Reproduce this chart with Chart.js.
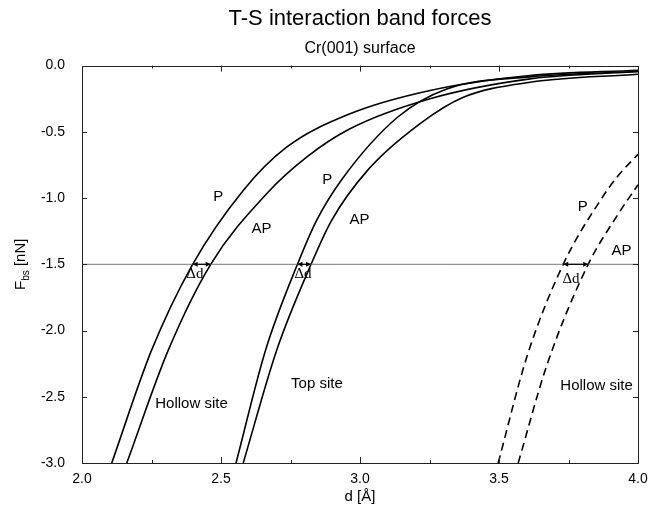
<!DOCTYPE html>
<html>
<head>
<meta charset="utf-8">
<script src="https://cdn.jsdelivr.net/npm/chart.js@4/dist/chart.umd.min.js"></script>
<style>
  html, body { margin: 0; padding: 0; background: #fff; }
  #wrap { width: 649px; height: 508px; }
</style>
</head>
<body>
<div id="wrap"><canvas id="forceChart" width="649" height="508"></canvas></div>
<script>
// tip-sample distance d [Å] and band force F_bs [nN] for each curve
const hollowP_d  = [2.107, 2.25, 2.398, 2.58, 2.736, 2.964, 3.252, 3.612, 4.0];
const hollowP_F  = [-3.0, -2.15, -1.5, -0.942, -0.616, -0.364, -0.188, -0.075, -0.035];
const hollowAP_d = [2.161, 2.31, 2.463, 2.664, 2.808, 2.964, 3.252, 3.612, 4.0];
const hollowAP_F = [-3.0, -2.15, -1.5, -0.967, -0.691, -0.477, -0.25, -0.1, -0.045];
const topP_d     = [2.554, 2.66, 2.775, 2.844, 2.934, 3.135, 3.312, 3.612, 4.0];
const topP_F     = [-3.0, -2.15, -1.5, -1.168, -0.861, -0.39, -0.176, -0.085, -0.045];
const topAP_d    = [2.580, 2.70, 2.824, 2.898, 3.027, 3.215, 3.372, 3.612, 4.0];
const topAP_F    = [-3.0, -2.15, -1.5, -1.168, -0.791, -0.44, -0.239, -0.126, -0.065];
const hollow2P_d  = [3.497, 3.60, 3.731, 3.87, 3.929, 4.0];
const hollow2P_F  = [-3.0, -2.2, -1.5, -1.0, -0.83, -0.67];
const hollow2AP_d = [3.569, 3.674, 3.821, 3.929, 4.0];
const hollow2AP_F = [-3.0, -2.25, -1.5, -1.12, -0.90];

const bandLevel = -1.5;

// text labels placed in data coordinates
const labelText = ['P', 'AP', 'P', 'AP', 'P', 'AP', 'Hollow site', 'Top site', 'Hollow site'];
const labelX    = [2.49, 2.646, 2.882, 2.998, 3.801, 3.941, 2.394, 2.845, 3.851];
const labelY    = [-0.99, -1.23, -0.861, -1.168, -1.068, -1.40, -2.555, -2.404, -2.419];

const deltaLabelX = [2.406, 2.795, 3.759];
const deltaLabelY = [-1.577, -1.577, -1.613];

const SANS = "'Liberation Sans', Arial, Helvetica, sans-serif";
const SERIF = "'Liberation Serif', 'Times New Roman', serif";

function toPoints(xs, ys) {
    return xs.map((x, i) => ({ x: x, y: ys[i] }));
}

function crossingAt(xs, ys, level) {
    const i = ys.indexOf(level);
    return xs[i];
}

function curve(xs, ys, dashed) {
    return {
        data: toPoints(xs, ys),
        borderColor: '#000',
        borderWidth: 1.6,
        borderDash: dashed ? [8, 5] : [],
        pointRadius: 0,
        showLine: true,
        fill: false,
        cubicInterpolationMode: 'monotone'
    };
}

// pairs of curves whose Δd gets an arrow
const pairs = [
    [hollowP_d, hollowP_F, hollowAP_d, hollowAP_F],
    [topP_d, topP_F, topAP_d, topAP_F],
    [hollow2P_d, hollow2P_F, hollow2AP_d, hollow2AP_F]
];

const decorations = {
    id: 'decorations',
    afterDatasetsDraw(chart) {
        const ctx = chart.ctx;
        const area = chart.chartArea;
        const xs = chart.scales.x;
        const ys = chart.scales.y;
        ctx.save();

        // frame
        ctx.strokeStyle = '#222';
        ctx.lineWidth = 1;
        ctx.strokeRect(Math.round(area.left) + 0.5, Math.round(area.top) + 0.5,
            Math.round(area.right - area.left), Math.round(area.bottom - area.top));

        // inward tick marks on all four sides
        ctx.beginPath();
        for (let v = 2.25; v < 4; v += 0.25) {
            const px = Math.round(xs.getPixelForValue(v)) + 0.5;
            const len = Math.abs(v * 2 - Math.round(v * 2)) < 1e-6 ? 6 : 3;
            ctx.moveTo(px, area.bottom); ctx.lineTo(px, area.bottom - len);
            ctx.moveTo(px, area.top); ctx.lineTo(px, area.top + len);
        }
        for (let v = -2.5; v < 0; v += 0.5) {
            const py = Math.round(ys.getPixelForValue(v)) + 0.5;
            ctx.moveTo(area.left, py); ctx.lineTo(area.left + 5, py);
            ctx.moveTo(area.right, py); ctx.lineTo(area.right - 5, py);
        }
        ctx.stroke();

        // Δd double arrows between P and AP at the reference level
        ctx.fillStyle = '#000';
        ctx.strokeStyle = '#000';
        ctx.lineWidth = 1.2;
        const yb = ys.getPixelForValue(bandLevel);
        pairs.forEach(p => {
            const x1 = xs.getPixelForValue(crossingAt(p[0], p[1], bandLevel));
            const x2 = xs.getPixelForValue(crossingAt(p[2], p[3], bandLevel));
            ctx.beginPath();
            ctx.moveTo(x1, yb); ctx.lineTo(x2, yb);
            ctx.stroke();
            ctx.beginPath();
            ctx.moveTo(x1, yb); ctx.lineTo(x1 + 5, yb - 2.5); ctx.lineTo(x1 + 5, yb + 2.5); ctx.closePath();
            ctx.moveTo(x2, yb); ctx.lineTo(x2 - 5, yb - 2.5); ctx.lineTo(x2 - 5, yb + 2.5); ctx.closePath();
            ctx.fill();
        });

        // curve and region labels
        ctx.textAlign = 'center';
        ctx.textBaseline = 'middle';
        ctx.font = '15px ' + SANS;
        labelText.forEach((t, i) => {
            ctx.fillText(t, xs.getPixelForValue(labelX[i]), ys.getPixelForValue(labelY[i]));
        });
        ctx.font = '15px ' + SERIF;
        deltaLabelX.forEach((x, i) => {
            ctx.fillText('\u0394d', xs.getPixelForValue(x), ys.getPixelForValue(deltaLabelY[i]));
        });

        // y axis title with subscript
        const cx = 21;
        const cy = (area.top + area.bottom) / 2;
        ctx.translate(cx, cy);
        ctx.rotate(-Math.PI / 2);
        ctx.textAlign = 'left';
        ctx.textBaseline = 'middle';
        const big = '15px ' + SANS;
        const small = '10px ' + SANS;
        ctx.font = big;
        const wF = ctx.measureText('F').width;
        const wRest = ctx.measureText(' [nN]').width;
        ctx.font = small;
        const wSub = ctx.measureText('bs').width;
        let x0 = -(wF + wSub + wRest) / 2;
        ctx.font = big;
        ctx.fillText('F', x0, 0);
        ctx.font = small;
        ctx.fillText('bs', x0 + wF, 5);
        ctx.font = big;
        ctx.fillText(' [nN]', x0 + wF + wSub, 0);

        ctx.restore();
    }
};

function fmt(v) {
    return Math.abs(v) < 1e-9 ? '0.0' : v.toFixed(1);
}

function renderChart() {
    const ctx = document.getElementById('forceChart').getContext('2d');
    Chart.defaults.font.family = SANS;
    Chart.defaults.color = '#000';

    new Chart(ctx, {
        type: 'scatter',
        data: {
            datasets: [
                {
                    data: [{ x: 2, y: bandLevel }, { x: 4, y: bandLevel }],
                    borderColor: '#777',
                    borderWidth: 1,
                    pointRadius: 0,
                    showLine: true
                },
                curve(hollowP_d, hollowP_F, false),
                curve(hollowAP_d, hollowAP_F, false),
                curve(topP_d, topP_F, false),
                curve(topAP_d, topAP_F, false),
                curve(hollow2P_d, hollow2P_F, true),
                curve(hollow2AP_d, hollow2AP_F, true)
            ]
        },
        options: {
            responsive: false,
            animation: false,
            devicePixelRatio: 1,
            layout: { padding: { left: 0, right: 0, top: 0, bottom: 0 } },
            plugins: {
                legend: { display: false },
                tooltip: { enabled: false },
                title: {
                    display: true,
                    fullSize: false,
                    text: 'T-S interaction band forces',
                    font: { size: 22, weight: 'normal' },
                    color: '#000',
                    padding: { top: 6, bottom: 0 }
                },
                subtitle: {
                    display: true,
                    fullSize: false,
                    text: 'Cr(001) surface',
                    font: { size: 16, weight: 'normal' },
                    color: '#000',
                    padding: { top: 7, bottom: 7 }
                }
            },
            scales: {
                x: {
                    type: 'linear',
                    min: 2,
                    max: 4,
                    ticks: { stepSize: 0.5, callback: fmt, font: { size: 14 }, padding: 8, maxRotation: 0 },
                    grid: { display: false, drawTicks: false },
                    border: { display: false },
                    title: { display: true, text: 'd [Å]', font: { size: 15 }, padding: { top: 0, bottom: 2 } },
                    afterFit: s => { s.height = 45; s.paddingRight = 11; }
                },
                y: {
                    min: -3,
                    max: 0,
                    ticks: { stepSize: 0.5, callback: fmt, font: { size: 14 }, padding: 17 },
                    grid: { display: false, drawTicks: false },
                    border: { display: false },
                    afterFit: s => { s.width = 82; }
                }
            }
        },
        plugins: [decorations]
    });
}

document.addEventListener('DOMContentLoaded', function () {
    renderChart();
});
</script>
</body>
</html>
